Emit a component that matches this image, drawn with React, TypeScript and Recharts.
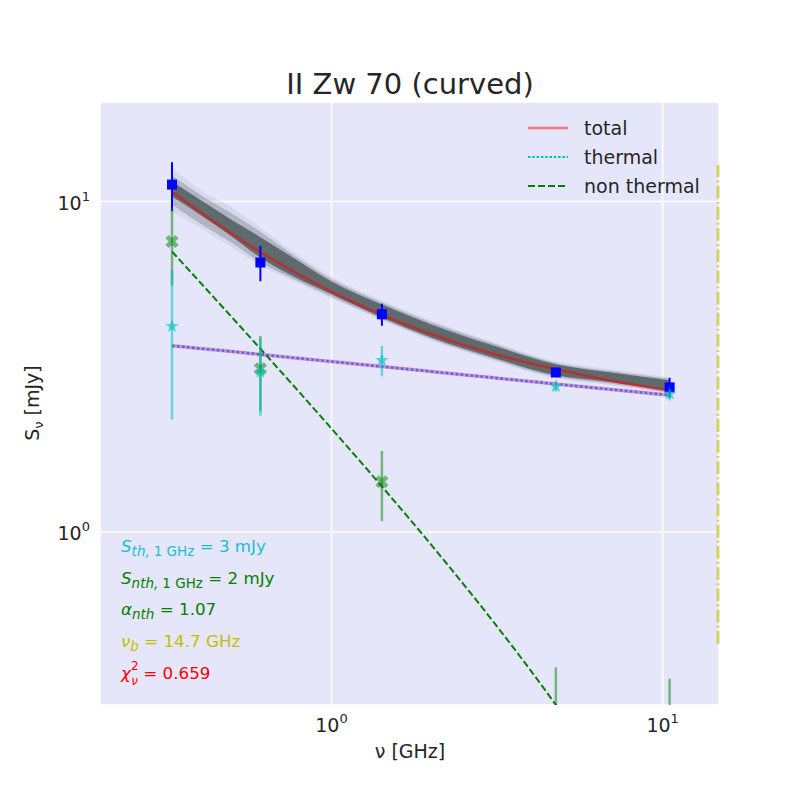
import {
  ComposedChart,
  Line,
  Area,
  Scatter,
  ErrorBar,
  XAxis,
  YAxis,
  CartesianGrid,
  ReferenceLine,
} from 'recharts';

// model curves at these frequencies (GHz -> mJy)
const MODEL_NU = [0.33, 0.4, 0.5, 0.61, 0.75, 1.0, 1.42, 2.0, 3.0, 4.76, 7.0, 10.5];
const MODEL_TOTAL = [10.72, 9.31, 7.99, 7.03, 6.23, 5.34, 4.54, 3.98, 3.49, 3.11, 2.87, 2.68];
const MODEL_THERMAL = [3.665, 3.595, 3.516, 3.446, 3.377, 3.28, 3.168, 3.061, 2.939, 2.806, 2.7, 2.593];
const MODEL_NONTHERMAL = [7.056, 5.715, 4.47, 3.586, 2.848, 2.058, 1.374, 0.916, 0.5545, 0.3001, 0.1705, 0.0871];

// spread of the MCMC sample curves: dark core, softer middle, faint edge
const SAMPLES_CORE_LO = [10.35, 9.14, 7.84, 6.77, 6.0, 5.24, 4.46, 3.88, 3.4, 2.98, 2.84, 2.67];
const SAMPLES_CORE_HI = [11.49, 10.14, 8.8, 7.8, 6.85, 5.73, 4.88, 4.25, 3.7, 3.22, 3.04, 2.88];
const SAMPLES_MID_LO = [9.8, 8.6, 7.5, 6.55, 5.9, 5.15, 4.41, 3.84, 3.36, 2.95, 2.81, 2.64];
const SAMPLES_MID_HI = [12.0, 10.5, 9.2, 8.1, 7.0, 5.83, 4.95, 4.31, 3.75, 3.25, 3.07, 2.91];
const SAMPLES_EDGE_LO = [9.33, 8.35, 7.26, 6.41, 5.81, 5.09, 4.37, 3.8, 3.33, 2.92, 2.78, 2.61];
const SAMPLES_EDGE_HI = [12.67, 10.87, 9.59, 8.35, 7.16, 5.93, 5.02, 4.37, 3.8, 3.29, 3.11, 2.94];

// observed points
const OBS_NU = [0.33, 0.61, 1.42, 4.76, 10.5];
const TOTAL_FLUX = [11.25, 6.54, 4.56, 3.04, 2.74];
const TOTAL_ERR = [1.9, 0.8, 0.35, 0.07, 0.19];
const THERMAL_FLUX = [4.19, 3.05, 3.31, 2.76, 2.62];
const THERMAL_ERR = [2.0, 0.8, 0.35, 0.1, 0.12];
const NONTHERMAL_FLUX = [7.57, 3.12, 1.42, 0.28, 0.12];
const NONTHERMAL_ERR_LO = [2.0, 0.8, 0.34, 0.11, 0.11];
const NONTHERMAL_ERR_HI = [2.0, 0.8, 0.34, 0.11, 0.24];

const NU_BREAK = 14.7;
const BREAK_SPAN = [0.46, 12.9];
const X_TICKS = [1, 10];
const Y_TICKS = [1, 10];

const FONT = 'DejaVu Sans';
const TEXT = '#262626';

const modelData = MODEL_NU.map((nu, i) => ({
  nu,
  total: MODEL_TOTAL[i],
  thermal: MODEL_THERMAL[i],
  nonthermal: MODEL_NONTHERMAL[i],
  core: [SAMPLES_CORE_LO[i], SAMPLES_CORE_HI[i]],
  mid: [SAMPLES_MID_LO[i], SAMPLES_MID_HI[i]],
  edge: [SAMPLES_EDGE_LO[i], SAMPLES_EDGE_HI[i]],
}));

const totalPts = OBS_NU.map((nu, i) => ({ nu, s: TOTAL_FLUX[i], err: TOTAL_ERR[i] }));
const thermalPts = OBS_NU.map((nu, i) => ({ nu, s: THERMAL_FLUX[i], err: THERMAL_ERR[i] }));
const nonthermalPts = OBS_NU.map((nu, i) => ({ nu, s: NONTHERMAL_FLUX[i] }));

const XTick = ({ x, y, payload }: any) => (
  <text x={x} y={y + 27} textAnchor="middle" fontSize={19} fill={TEXT} fontFamily={FONT}>
    10
    <tspan dy={-9} fontSize={13}>
      {Math.round(Math.log10(payload.value))}
    </tspan>
  </text>
);

const YTick = ({ x, y, payload }: any) => (
  <text x={x - 10} y={y + 8} textAnchor="end" fontSize={19} fill={TEXT} fontFamily={FONT}>
    10
    <tspan dy={-9} fontSize={13}>
      {Math.round(Math.log10(payload.value))}
    </tspan>
  </text>
);

const Square = ({ cx, cy }: any) => <rect x={cx - 5} y={cy - 5} width={10} height={10} fill="#0000ff" />;

const Star = ({ cx, cy }: any) => {
  const pts = Array.from({ length: 10 }, (_, k) => {
    const a = -Math.PI / 2 + (k * Math.PI) / 5;
    const r = k % 2 === 0 ? 7 : 2.9;
    return `${cx + r * Math.cos(a)},${cy + r * Math.sin(a)}`;
  }).join(' ');
  return <polygon points={pts} fill="#00bfbf" fillOpacity={0.6} />;
};

const Cross = ({ cx, cy }: any) => {
  const w = 2.3;
  const L = 7;
  const pts = [
    [w, L], [w, w], [L, w], [L, -w], [w, -w], [w, -L],
    [-w, -L], [-w, -w], [-L, -w], [-L, w], [-w, w], [-w, L],
  ]
    .map(([px, py]) => `${px},${py}`)
    .join(' ');
  return (
    <polygon points={pts} transform={`translate(${cx},${cy}) rotate(45)`} fill="#008000" fillOpacity={0.5} />
  );
};

const LEGEND = [
  { label: 'total', stroke: '#ff0000', opacity: 0.5, dash: undefined, width: 2.5 },
  { label: 'thermal', stroke: '#00bfbf', opacity: 1, dash: '2.5 1.8', width: 2 },
  { label: 'non thermal', stroke: '#008000', opacity: 1, dash: '7 3', width: 2 },
];

const Overlay = () => (
  <svg width={800} height={800} style={{ position: 'absolute', top: 0, left: 0, pointerEvents: 'none' }}>
    <text x={410} y={94} textAnchor="middle" fontSize={29} fill={TEXT} fontFamily={FONT}>
      II Zw 70 (curved)
    </text>
    <text x={410} y={758} textAnchor="middle" fontSize={19} fill={TEXT} fontFamily={FONT}>
      ν [GHz]
    </text>
    <text transform="translate(39,403) rotate(-90)" textAnchor="middle" fontSize={19} fill={TEXT} fontFamily={FONT}>
      S<tspan fontSize={13} dy={4}>ν</tspan>
      <tspan dy={-4}> [mJy]</tspan>
    </text>

    {LEGEND.map((d, i) => (
      <g key={d.label}>
        <line
          x1={528}
          x2={568}
          y1={128 + i * 29}
          y2={128 + i * 29}
          stroke={d.stroke}
          strokeOpacity={d.opacity}
          strokeWidth={d.width}
          strokeDasharray={d.dash}
        />
        <text x={584} y={135 + i * 29} fontSize={19} fill={TEXT} fontFamily={FONT}>
          {d.label}
        </text>
      </g>
    ))}

    <g fontFamily={FONT} fontSize={16.7}>
      <text x={121} y={552} fill="#17becf">
        <tspan fontStyle="italic">S</tspan>
        <tspan fontStyle="italic" fontSize={13.5} dy={4}>th,</tspan>
        <tspan fontSize={13.5} dx={4}>1 GHz</tspan>
        <tspan dy={-4}> = 3 mJy</tspan>
      </text>
      <text x={121} y={584} fill="#008000">
        <tspan fontStyle="italic">S</tspan>
        <tspan fontStyle="italic" fontSize={13.5} dy={4}>nth,</tspan>
        <tspan fontSize={13.5} dx={4}>1 GHz</tspan>
        <tspan dy={-4}> = 2 mJy</tspan>
      </text>
      <text x={121} y={615} fill="#008000">
        <tspan fontStyle="italic">α</tspan>
        <tspan fontStyle="italic" fontSize={13.5} dy={4}>nth</tspan>
        <tspan dy={-4}> = 1.07</tspan>
      </text>
      <text x={121} y={647} fill="#bfbf00">
        <tspan fontStyle="italic">ν</tspan>
        <tspan fontStyle="italic" fontSize={13.5} dy={4}>b</tspan>
        <tspan dy={-4}> = 14.7 GHz</tspan>
      </text>
      <text x={121} y={679} fill="#ff0000">
        <tspan fontStyle="italic">χ</tspan>
        <tspan fontSize={12} dy={-9.5}>2</tspan>
        <tspan fontStyle="italic" fontSize={12} dx={-7.2} dy={15}>ν</tspan>
        <tspan dy={-5.5}> = 0.659</tspan>
      </text>
    </g>
  </svg>
);

export default function App() {
  return (
    <div style={{ position: 'absolute', top: 0, left: 0, width: 800, height: 800, background: '#fff' }}>
      <ComposedChart width={800} height={800} data={modelData} margin={{ top: 102, right: 81, bottom: 55, left: 40 }}>
        <CartesianGrid fill="#e6e6fa" fillOpacity={1} stroke="#ffffff" strokeWidth={1.5} />
        <XAxis
          dataKey="nu"
          type="number"
          scale="log"
          domain={[0.2, 14.8]}
          allowDataOverflow
          ticks={X_TICKS}
          interval={0}
          tick={<XTick />}
          axisLine={false}
          tickLine={false}
          tickSize={0}
          tickMargin={0}
          height={40}
        />
        <YAxis
          type="number"
          scale="log"
          domain={[0.3, 20]}
          allowDataOverflow
          ticks={Y_TICKS}
          interval={0}
          tick={<YTick />}
          axisLine={false}
          tickLine={false}
          tickSize={0}
          tickMargin={0}
          width={60}
        />

        <Area
          dataKey="edge"
          type="monotone"
          stroke="none"
          fill="#6a7486"
          fillOpacity={0.12}
          dot={false}
          activeDot={false}
          isAnimationActive={false}
        />
        <Area
          dataKey="mid"
          type="monotone"
          stroke="none"
          fill="#56606a"
          fillOpacity={0.3}
          dot={false}
          activeDot={false}
          isAnimationActive={false}
        />
        <Area
          dataKey="core"
          type="monotone"
          stroke="none"
          fill="#4b5757"
          fillOpacity={0.8}
          dot={false}
          activeDot={false}
          isAnimationActive={false}
        />
        <Line
          dataKey="total"
          type="monotone"
          stroke="#ff0000"
          strokeOpacity={0.55}
          strokeWidth={2.5}
          dot={false}
          activeDot={false}
          isAnimationActive={false}
        />
        <Line
          dataKey="thermal"
          type="monotone"
          stroke="#00bfbf"
          strokeWidth={2.5}
          strokeDasharray="2.5 2.5"
          dot={false}
          activeDot={false}
          isAnimationActive={false}
        />
        <Line
          dataKey="thermal"
          type="monotone"
          stroke="#bf00bf"
          strokeOpacity={0.4}
          strokeWidth={3.5}
          dot={false}
          activeDot={false}
          isAnimationActive={false}
        />
        <Line
          dataKey="nonthermal"
          type="monotone"
          stroke="#008000"
          strokeWidth={2}
          strokeDasharray="7 3"
          dot={false}
          activeDot={false}
          isAnimationActive={false}
        />

        <ReferenceLine
          segment={[
            { x: NU_BREAK, y: BREAK_SPAN[0] },
            { x: NU_BREAK, y: BREAK_SPAN[1] },
          ]}
          stroke="#bfbf00"
          strokeOpacity={0.6}
          strokeWidth={3}
          strokeDasharray="12.8 3.2 2 3.2"
        />

        <Scatter data={totalPts} dataKey="s" shape={<Square />} isAnimationActive={false}>
          <ErrorBar dataKey="err" direction="y" width={0} stroke="#0000ff" strokeWidth={2} isAnimationActive={false} />
        </Scatter>

        {/* non-thermal error bars run out of the plot, so they are clipped segments */}
        {OBS_NU.map((nu, i) => (
          <ReferenceLine
            key={`nth-err-${i}`}
            segment={[
              { x: nu, y: NONTHERMAL_FLUX[i] - NONTHERMAL_ERR_LO[i] },
              { x: nu, y: NONTHERMAL_FLUX[i] + NONTHERMAL_ERR_HI[i] },
            ]}
            ifOverflow="hidden"
            stroke="#008000"
            strokeOpacity={0.5}
            strokeWidth={2.5}
          />
        ))}
        <Scatter data={nonthermalPts} dataKey="s" shape={<Cross />} isAnimationActive={false} />

        <Scatter data={thermalPts} dataKey="s" shape={<Star />} isAnimationActive={false}>
          <ErrorBar
            dataKey="err"
            direction="y"
            width={0}
            stroke="#00bfbf"
            strokeOpacity={0.55}
            strokeWidth={2.5}
            isAnimationActive={false}
          />
        </Scatter>
      </ComposedChart>
      <Overlay />
    </div>
  );
}
